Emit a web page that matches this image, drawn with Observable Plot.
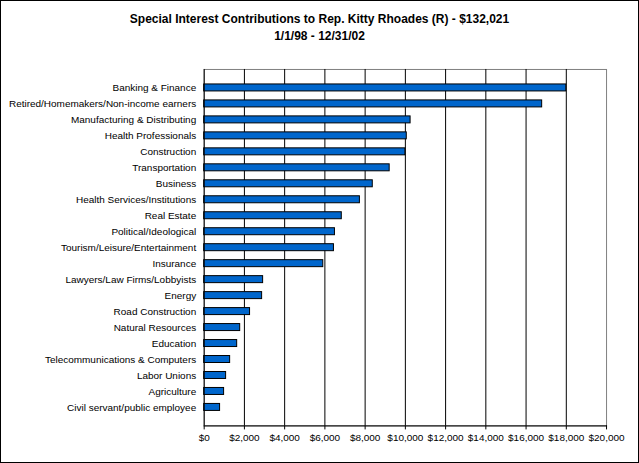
<!DOCTYPE html>
<html><head><meta charset="utf-8">
<script src="https://cdn.jsdelivr.net/npm/d3@7"></script>
<script src="https://cdn.jsdelivr.net/npm/@observablehq/plot@0.6"></script>
<style>
body{margin:0;background:#fff;font-family:"Liberation Sans",Arial,sans-serif;}
#wrap{position:relative;width:639px;height:463px;box-sizing:border-box;border:1px solid #000;overflow:hidden;}
#title{position:absolute;top:10px;left:0;width:100%;text-align:center;font-weight:bold;font-size:12px;line-height:17px;}
#chart{position:absolute;top:50px;left:-1px;}
</style></head><body>
<div id="wrap"><div id="title">Special Interest Contributions to Rep. Kitty Rhoades (R) - $132,021<br>1/1/98 - 12/31/02</div><div id="chart"></div></div>
<script>
const categories=["Banking & Finance","Retired/Homemakers/Non-income earners","Manufacturing & Distributing","Health Professionals","Construction","Transportation","Business","Health Services/Institutions","Real Estate","Political/Ideological","Tourism/Leisure/Entertainment","Insurance","Lawyers/Law Firms/Lobbyists","Energy","Road Construction","Natural Resources","Education","Telecommunications & Computers","Labor Unions","Agriculture","Civil servant/public employee"];
const values=[18000,16800,10260,10070,10000,9220,8380,7740,6840,6500,6450,5920,2930,2880,2280,1790,1640,1290,1090,990,790];
const xTicks=[0,2000,4000,6000,8000,10000,12000,14000,16000,18000,20000];
const data=categories.map((c,i)=>({c,v:values[i]}));
const fmt=d=>"$"+d3.format(",")(d);
const chart=Plot.plot({
  width:639,height:413,marginTop:18,marginBottom:38,marginLeft:204,marginRight:32,
  style:{fontFamily:"Liberation Sans, Arial, sans-serif",fontSize:"10px",color:"#000"},
  x:{domain:[0,20000],ticks:xTicks,tickFormat:fmt,label:null},
  y:{domain:categories,paddingInner:0.58,paddingOuter:0.3,label:null},
  marks:[
    Plot.frame({stroke:"#808080"}),
    Plot.ruleX(xTicks.slice(1,-1),{stroke:"#000",strokeWidth:1}),
    Plot.barX(data,{x:"v",y:"c",fill:"#0066cc",stroke:"#000",strokeWidth:1}),
    Plot.ruleX([0],{stroke:"#000"}),
    Plot.frame({anchor:"bottom",stroke:"#000"}),
    Plot.axisX({ticks:xTicks,tickFormat:fmt,tickSize:4,fontSize:10,tickPadding:4}),
    Plot.axisY({tickSize:0,tickPadding:8,fontSize:10})
  ]
});
document.getElementById("chart").appendChild(chart);
</script></body></html>
